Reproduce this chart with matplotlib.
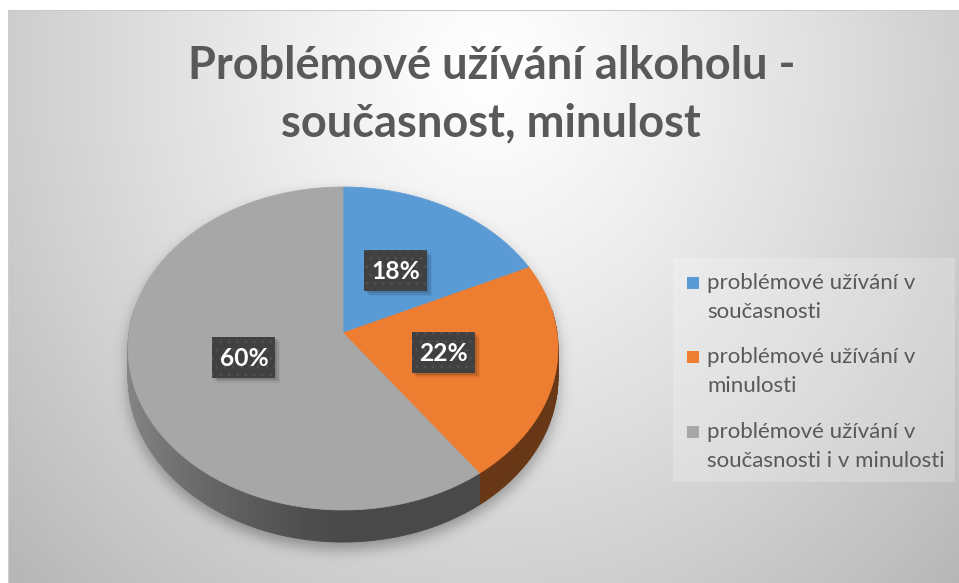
import numpy as np
import matplotlib
matplotlib.use("Agg")
import matplotlib.pyplot as plt
from matplotlib.path import Path
from matplotlib.patches import Polygon, Rectangle

# ---------------- data ----------------
title_lines = ["Problémové užívání alkoholu -", "současnost, minulost"]
categories = ["problémové užívání v\nsoučasnosti",
              "problémové užívání v\nminulosti",
              "problémové užívání v\nsoučasnosti i v minulosti"]
values = [18, 22, 60]
pct_labels = ["18%", "22%", "60%"]
colors = ["#5B9BD5", "#ED7D31", "#A7A7A7"]

FONT = ["Lato", "DejaVu Sans"]
plt.rcParams["font.family"] = FONT

W, H = 959, 583
fig = plt.figure(figsize=(W / 100, H / 100), dpi=100)
ax = fig.add_axes([0, 0, 1, 1])
ax.set_xlim(0, W)
ax.set_ylim(H, 0)
ax.axis("off")
renderer = fig.canvas.get_renderer()

# ---------------- pie geometry (perspective disk) ----------------
cx, cy, rx, ry, p, depth = 343, 333, 214, 160, 0.096, 29


def proj(theta_deg, r=1.0, drop=0.0):
    t = np.radians(theta_deg)
    u = r * np.sin(t)
    v = r * np.cos(t)
    s = 1.0 / (1.0 + p * v)
    return cx + rx * u * s, cy - ry * v * s + drop * s


# ---------------- background with gradient and pie shadow ----------------
yy, xx = np.mgrid[0:H, 0:W] + 0.5
d = np.sqrt(((xx - 490) / 500.0) ** 2 + ((yy - 70) / 560.0) ** 2)
bg = 255 - 52 * np.clip(d, 0, 1.3) ** 1.2

th = np.linspace(0, 360, 721)
tx, ty = proj(th)
bx, by = proj(th, drop=depth)
pts = np.column_stack([xx.ravel(), yy.ravel()])
sh = 7
m = (Path(np.column_stack([tx, ty + sh])).contains_points(pts) |
     Path(np.column_stack([bx, by + sh])).contains_points(pts)).reshape(H, W).astype(float)


def gblur(a, sigma):
    r = int(3 * sigma)
    k = np.exp(-0.5 * (np.arange(-r, r + 1) / sigma) ** 2)
    k /= k.sum()
    a = np.apply_along_axis(lambda row: np.convolve(row, k, mode="same"), 1, a)
    a = np.apply_along_axis(lambda col: np.convolve(col, k, mode="same"), 0, a)
    return a


m = gblur(m, 7)
bg = bg * (1 - 0.32 * m)

# outside chart area: white strip
bg[:, :8] = 255
bg[:10, :] = 255
bg[10, 8:] = 200
bg[10:, 8] = 205
img = np.clip(np.dstack([bg, bg, bg]) / 255.0, 0, 1)
ax.imshow(img, extent=(0, W, H, 0), zorder=0, interpolation="bilinear", aspect="auto")

# ---------------- pie ----------------
bounds = np.concatenate([[0], np.cumsum(values)]) / np.sum(values) * 360.0


def hex2rgb(h):
    h = h.lstrip("#")
    return np.array([int(h[i:i + 2], 16) for i in (0, 2, 4)]) / 255.0


# sides
for i, c in enumerate(colors):
    a, b = bounds[i], bounds[i + 1]
    n = max(int((b - a) / 1.5), 2)
    ts = np.linspace(a, b, n + 1)
    base = hex2rgb(c)
    for t0, t1 in zip(ts[:-1], ts[1:]):
        tm = 0.5 * (t0 + t1)
        if np.cos(np.radians(tm)) > 0.15:
            continue
        u = np.sin(np.radians(tm))
        f = 0.44 + 0.36 * np.clip(-u, 0, 1) ** 1.3
        col = np.clip(base * f, 0, 1)
        x0, y0 = proj(t0)
        x1, y1 = proj(t1)
        x2, y2 = proj(t1, drop=depth)
        x3, y3 = proj(t0, drop=depth)
        ax.add_patch(Polygon([[x0, y0], [x1, y1], [x2, y2], [x3, y3]], closed=True,
                             facecolor=col, edgecolor=col, lw=0.6, zorder=2))

# tops
for i, c in enumerate(colors):
    a, b = bounds[i], bounds[i + 1]
    ts = np.linspace(a, b, max(int(b - a), 2) * 2)
    ax_, ay_ = proj(ts)
    poly = np.vstack([[cx, cy], np.column_stack([ax_, ay_])])
    ax.add_patch(Polygon(poly, closed=True, facecolor=c, edgecolor=c, lw=0.5, zorder=3))


def fit_size(text, target_w, weight="normal"):
    t = ax.text(0, 0, text, fontsize=10, fontweight=weight)
    w = t.get_window_extent(renderer).width
    t.remove()
    return 10 * target_w / w


# data labels
lab_fs = fit_size("60%", 49, "bold")
bw, bh = 63, 41
for i, lab in enumerate(pct_labels):
    mid = 0.5 * (bounds[i] + bounds[i + 1])
    lx, ly = proj(mid, r=0.48)
    for k, al in enumerate([0.10, 0.08, 0.06]):
        off = 2 + k * 1.5
        ax.add_patch(Rectangle((lx - bw / 2 + off, ly - bh / 2 + off), bw, bh,
                               facecolor="black", edgecolor="none", alpha=al, zorder=4))
    ax.add_patch(Rectangle((lx - bw / 2, ly - bh / 2), bw, bh, facecolor="#404040",
                           edgecolor="#4e4e4e", lw=0, hatch="..", zorder=5))
    ax.text(lx, ly + 1, lab, color="white", fontsize=lab_fs, fontweight="bold",
            ha="center", va="center", zorder=6)

# ---------------- title ----------------
t_fs = fit_size(title_lines[0], 608, "bold")
ax.text(492, 79, title_lines[0], fontsize=t_fs, fontweight="bold", color="#595959",
        ha="center", va="baseline", zorder=6)
ax.text(491, 136, title_lines[1], fontsize=t_fs, fontweight="bold", color="#595959",
        ha="center", va="baseline", zorder=6)

# ---------------- legend ----------------
ax.add_patch(Rectangle((673, 258), 282, 224, facecolor="white", edgecolor="none",
                       alpha=0.22, zorder=1))
leg_fs = fit_size("problémové užívání v", 208)
leg_y = [283, 357, 432]
for i, (cat, c) in enumerate(zip(categories, colors)):
    ax.add_patch(Rectangle((687, leg_y[i] - 6), 12, 12, facecolor=c, edgecolor="none", zorder=6))
    for j, line in enumerate(cat.split("\n")):
        ax.text(707, leg_y[i] + j * 29, line, fontsize=leg_fs, color="#595959",
                ha="left", va="center", zorder=6)

fig.savefig("out.png", dpi=100)
